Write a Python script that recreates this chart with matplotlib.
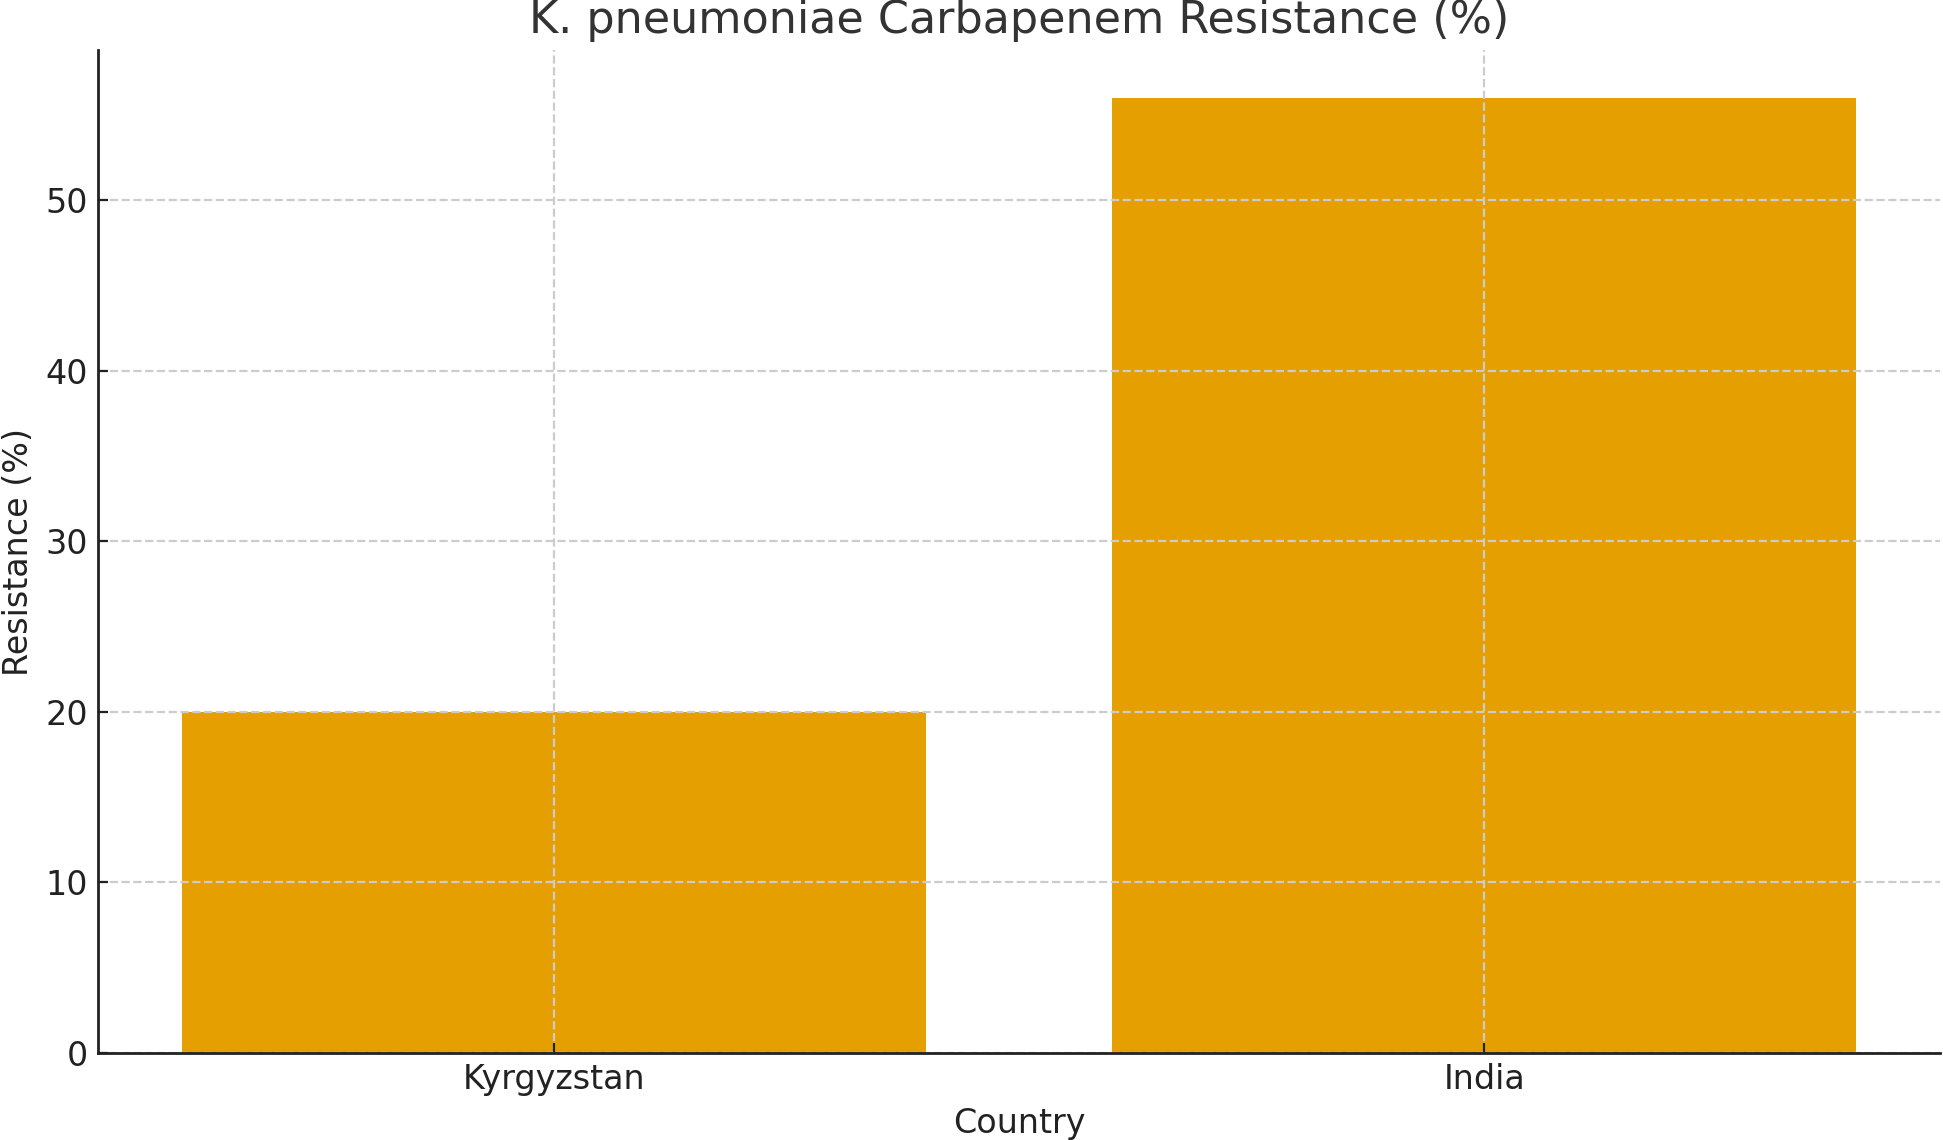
import numpy as np
import matplotlib
matplotlib.use("Agg")
import matplotlib.pyplot as plt

countries = ["Kyrgyzstan", "India"]
resistance = [20, 56]

plt.rcParams['font.family'] = ['DejaVu Sans']

fig = plt.figure(figsize=(19.43 / 2, 11.4 / 2), dpi=200)
ax = fig.add_axes([98 / 1943, 87 / 1140, (1940 - 98) / 1943, (1090 - 87) / 1140])

ax.bar(countries, resistance, width=0.8, color='#E69F00')

ax.set_title('K. pneumoniae Carbapenem Resistance (%)', fontsize=16, color='#333333')
ax.set_xlabel('Country', fontsize=12, color='#222222')
ax.set_ylabel('Resistance (%)', fontsize=12, color='#222222')
ax.tick_params(axis='both', direction='in', labelsize=12, labelcolor='#222222', color='#222222')
ax.grid(True, linestyle='--', color='#cccccc', linewidth=0.8)

for s in ['top', 'right']:
    ax.spines[s].set_visible(False)
for s in ['left', 'bottom']:
    ax.spines[s].set_linewidth(1.0)
    ax.spines[s].set_color('#222222')

fig.savefig('out.png', dpi=200)
